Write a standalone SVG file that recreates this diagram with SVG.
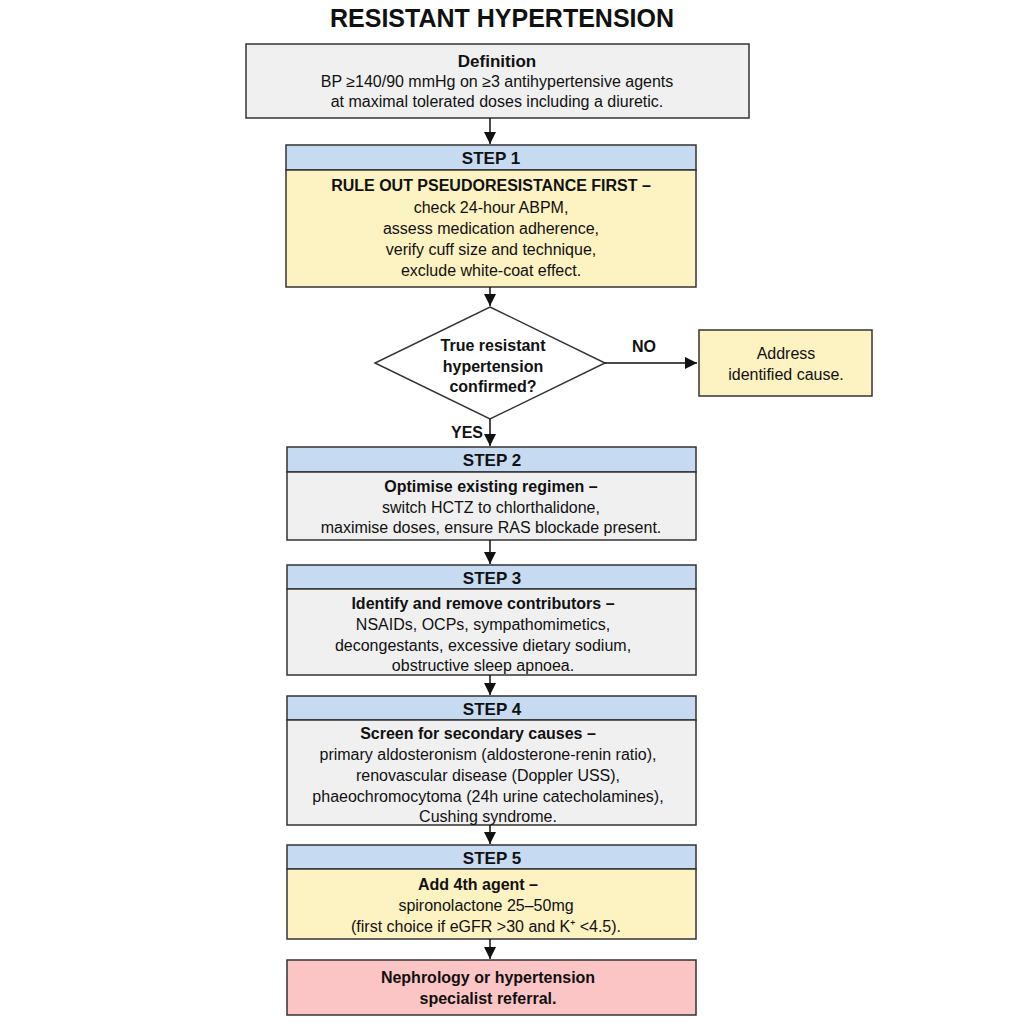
<svg xmlns="http://www.w3.org/2000/svg" width="1024" height="1024" viewBox="0 0 1024 1024">
<style>
text{font-family:"Liberation Sans",Arial,sans-serif;fill:#111;text-anchor:middle}
.t{font-size:16px}
.b{font-weight:bold}
.h{font-size:17px;font-weight:bold}
.box{stroke:#333;stroke-width:1.5}
.gray{fill:#f0f0f0}.blue{fill:#c6daf1}.yel{fill:#fdf2c2}.pink{fill:#fcc5c5}
.ln{stroke:#111;stroke-width:1.5;fill:none}
</style>
<defs><marker id="a" viewBox="0 0 10 10" refX="10" refY="5" markerWidth="8" markerHeight="8" orient="auto"><path d="M0,0L10,5L0,10z" fill="#111"/></marker></defs>
<rect width="1024" height="1024" fill="#fff"/>
<text x="502" y="27" style="font-size:25px;font-weight:bold">RESISTANT HYPERTENSION</text>
<g id="definition"><rect class="box gray" x="246" y="44" width="503" height="74"/>
<text class="t b" x="497" y="67" style="font-size:17px">Definition</text>
<text class="t" x="497" y="87">BP ≥140/90 mmHg on ≥3 antihypertensive agents</text>
<text class="t" x="497" y="107">at maximal tolerated doses including a diuretic.</text></g>
<g id="step1"><rect class="box blue" x="286" y="145" width="410" height="25"/><rect class="box yel" x="286" y="170" width="410" height="117"/>
<text class="h" x="491" y="164">STEP 1</text>
<text class="t b" x="491" y="191">RULE OUT PSEUDORESISTANCE FIRST –</text>
<text class="t" x="491" y="213">check 24-hour ABPM,</text>
<text class="t" x="491" y="234">assess medication adherence,</text>
<text class="t" x="491" y="255">verify cuff size and technique,</text>
<text class="t" x="491" y="276">exclude white-coat effect.</text></g>
<g id="decision"><polygon class="box" fill="#fff" points="490,307 605,363 490,419 375,363"/>
<text class="t b" x="493" y="351">True resistant</text>
<text class="t b" x="493" y="372">hypertension</text>
<text class="t b" x="493" y="392">confirmed?</text></g>
<g id="address"><rect class="box yel" x="699" y="330" width="173" height="66"/>
<text class="t" x="786" y="359">Address</text>
<text class="t" x="786" y="380">identified cause.</text></g>
<g id="step2"><rect class="box blue" x="287" y="447" width="409" height="25"/><rect class="box gray" x="287" y="472" width="409" height="68"/>
<text class="h" x="492" y="466">STEP 2</text>
<text class="t b" x="491" y="492">Optimise existing regimen –</text>
<text class="t" x="491" y="513">switch HCTZ to chlorthalidone,</text>
<text class="t" x="491" y="533">maximise doses, ensure RAS blockade present.</text></g>
<g id="step3"><rect class="box blue" x="287" y="565" width="409" height="24"/><rect class="box gray" x="287" y="589" width="409" height="86"/>
<text class="h" x="492" y="584">STEP 3</text>
<text class="t b" x="483" y="609">Identify and remove contributors –</text>
<text class="t" x="483" y="630">NSAIDs, OCPs, sympathomimetics,</text>
<text class="t" x="483" y="651">decongestants, excessive dietary sodium,</text>
<text class="t" x="483" y="671">obstructive sleep apnoea.</text></g>
<g id="step4"><rect class="box blue" x="287" y="696" width="409" height="24"/><rect class="box gray" x="287" y="720" width="409" height="105"/>
<text class="h" x="492" y="715">STEP 4</text>
<text class="t b" x="478" y="739">Screen for secondary causes –</text>
<text class="t" x="488" y="760">primary aldosteronism (aldosterone-renin ratio),</text>
<text class="t" x="488" y="781">renovascular disease (Doppler USS),</text>
<text class="t" x="488" y="802">phaeochromocytoma (24h urine catecholamines),</text>
<text class="t" x="488" y="822">Cushing syndrome.</text></g>
<g id="step5"><rect class="box blue" x="287" y="845" width="409" height="24"/><rect class="box yel" x="287" y="869" width="409" height="70"/>
<text class="h" x="492" y="864">STEP 5</text>
<text class="t b" x="478" y="890">Add 4th agent –</text>
<text class="t" x="486" y="911">spironolactone 25–50mg</text>
<text class="t" x="486" y="932">(first choice if eGFR &gt;30 and K⁺ &lt;4.5).</text></g>
<g id="referral"><rect class="box pink" x="287" y="960" width="409" height="55"/>
<text class="t b" x="488" y="983">Nephrology or hypertension</text>
<text class="t b" x="488" y="1004">specialist referral.</text></g>
<g id="connectors">
<line class="ln" x1="490" y1="118" x2="490" y2="144" marker-end="url(#a)"/>
<line class="ln" x1="490" y1="287" x2="490" y2="306" marker-end="url(#a)"/>
<line class="ln" x1="605" y1="363" x2="697" y2="363" marker-end="url(#a)"/>
<line class="ln" x1="490" y1="419" x2="490" y2="446" marker-end="url(#a)"/>
<line class="ln" x1="490" y1="540" x2="490" y2="564" marker-end="url(#a)"/>
<line class="ln" x1="490" y1="675" x2="490" y2="695" marker-end="url(#a)"/>
<line class="ln" x1="490" y1="825" x2="490" y2="844" marker-end="url(#a)"/>
<line class="ln" x1="490" y1="939" x2="490" y2="959" marker-end="url(#a)"/>
<text class="t b" x="644" y="352">NO</text>
<text class="t b" x="467" y="438">YES</text>
</g>
</svg>
